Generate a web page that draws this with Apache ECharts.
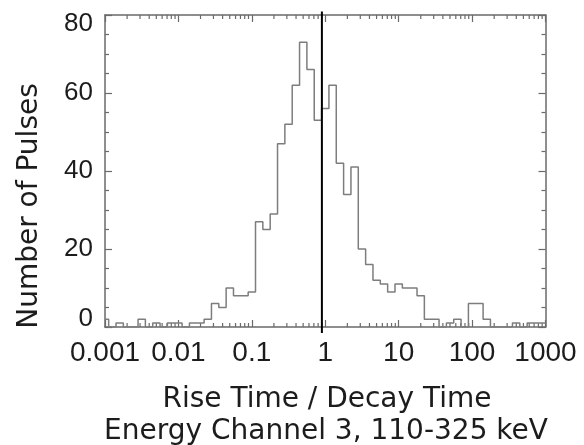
<!DOCTYPE html>
<html>
<head>
<meta charset="utf-8">
<script src="https://cdn.jsdelivr.net/npm/echarts@6/dist/echarts.min.js"></script>
<style>
html,body{margin:0;padding:0;background:#fff;}
#chart{width:584px;height:445px;}
</style>
</head>
<body>
<div id="chart"></div>
<script>
// ---- Data ----
// Histogram of log10(rise/decay) in bins of 0.1 dex, bin centres from 10^-3 to 10^3
const binLog10Start = -3;
const binLog10Width = 0.1;
const pulseCounts = [
  2, 0, 1, 0, 0, 2, 0, 1, 0, 1,
  1, 0, 1, 1, 2, 6, 5, 10, 8, 8,
  9, 27, 25, 29, 47, 52, 62, 73, 66, 53,
  56, 62, 42, 34, 41, 20, 16, 12, 11, 9,
  11, 10, 10, 8, 2, 2, 0, 1, 2, 0,
  6, 6, 2, 0, 0, 0, 1, 0, 1, 1,
  1
];
const xTickValues = [0.001, 0.01, 0.1, 1, 10, 100, 1000];
const xTickLabels = ['0.001', '0.01', '0.1', '1', '10', '100', '1000'];
const yTickLabels = ['0', '20', '40', '60', '80'];
const yMin = 0, yMax = 80, yInterval = 20;
const dividerValue = 0.9;   // vertical black line
const xTitle = 'Rise Time / Decay Time';
const subTitle = 'Energy Channel 3, 110-325 keV';
const yTitle = 'Number of Pulses';

// ---- Build series data ----
const histData = pulseCounts.map((c, k) => [Math.pow(10, binLog10Start + binLog10Width * k), c]);
const minorTickValues = [];
for (let d = 0; d < xTickValues.length - 1; d++) {
  for (let m = 2; m <= 9; m++) minorTickValues.push([xTickValues[d] * m]);
}

const frameColor = '#6a6a6a';
const textColor = '#1c1c1c';

const chart = echarts.init(document.getElementById('chart'), null, {renderer: 'canvas'});

const labelFor = v => {
  const i = Math.round(Math.log10(v)) + 3;
  return xTickLabels[i] !== undefined ? xTickLabels[i] : '';
};

const commonX = {
  type: 'log', logBase: 10, min: xTickValues[0], max: xTickValues[xTickValues.length - 1],
  interval: 1,
  axisLine: {show: true, onZero: false, lineStyle: {color: frameColor, width: 1.5}},
  axisTick: {show: true, inside: true, length: 7, lineStyle: {color: frameColor, width: 1.2}},
  splitLine: {show: false},
  minorTick: {show: false}
};
const commonY = {
  type: 'value', min: yMin, max: yMax, interval: yInterval,
  axisLine: {show: true, onZero: false, lineStyle: {color: frameColor, width: 1.5}},
  axisTick: {show: true, inside: true, length: 7, lineStyle: {color: frameColor, width: 1.2}},
  minorTick: {show: true, splitNumber: 4, length: 4, lineStyle: {color: frameColor, width: 1.2}},
  splitLine: {show: false}
};

const option = {
  animation: false,
  backgroundColor: '#ffffff',
  grid: {left: 105, right: 38.5, top: 15, bottom: 118, containLabel: false},
  xAxis: [
    Object.assign({}, commonX, {
      position: 'bottom',
      axisLabel: {
        show: true, margin: 12, color: textColor,
        fontFamily: 'Liberation Sans', fontSize: 28,
        formatter: labelFor
      }
    }),
    Object.assign({}, commonX, {position: 'top', axisLabel: {show: false}})
  ],
  yAxis: [
    Object.assign({}, commonY, {
      position: 'left',
      axisLabel: {
        show: true, margin: 12, color: textColor,
        fontFamily: 'Liberation Sans', fontSize: 26, lineHeight: 17,
        verticalAlignMinLabel: 'bottom', verticalAlignMaxLabel: 'top',
        formatter: v => yTickLabels[Math.round(v / yInterval)]
      }
    }),
    Object.assign({}, commonY, {position: 'right', axisLabel: {show: false}})
  ],
  graphic: [
    {
      type: 'text', x: 327, y: 400, silent: true,
      style: {text: xTitle, fill: textColor, font: '28px "DejaVu Sans"', align: 'center', verticalAlign: 'middle'}
    },
    {
      type: 'text', x: 326, y: 432, silent: true,
      style: {text: subTitle, fill: textColor, font: '28px "DejaVu Sans"', align: 'center', verticalAlign: 'middle'}
    },
    {
      type: 'text', x: 30, y: 206, rotation: Math.PI / 2, silent: true,
      style: {text: yTitle, fill: textColor, font: '28px "DejaVu Sans"', align: 'center', verticalAlign: 'middle'}
    }
  ],
  series: [
    {
      name: 'pulses', type: 'line', step: 'middle',
      xAxisIndex: 0, yAxisIndex: 0,
      data: histData, showSymbol: false, symbol: 'none',
      lineStyle: {color: '#7d7d7d', width: 1.5},
      z: 3
    },
    {
      name: 'minorTicks', type: 'custom', xAxisIndex: 0, yAxisIndex: 0,
      data: minorTickValues, silent: true, clip: false,
      renderItem: function (params, api) {
        const v = api.value(0);
        const b = api.coord([v, yMin]);
        const t = api.coord([v, yMax]);
        const st = {stroke: frameColor, lineWidth: 1.2};
        return {type: 'group', children: [
          {type: 'line', shape: {x1: b[0], y1: b[1], x2: b[0], y2: b[1] - 4}, style: st},
          {type: 'line', shape: {x1: t[0], y1: t[1], x2: t[0], y2: t[1] + 4}, style: st}
        ]};
      },
      z: 2
    },
    {
      name: 'divider', type: 'custom', xAxisIndex: 0, yAxisIndex: 0,
      data: [[dividerValue]], silent: true, clip: false,
      renderItem: function (params, api) {
        const v = api.value(0);
        const b = api.coord([v, yMin]);
        const t = api.coord([v, yMax]);
        return {type: 'line', shape: {x1: b[0], y1: b[1] + 6, x2: t[0], y2: t[1] - 3.5},
          style: {stroke: '#000000', lineWidth: 2}};
      },
      z: 4
    }
  ]
};
chart.setOption(option);
</script>
</body>
</html>
